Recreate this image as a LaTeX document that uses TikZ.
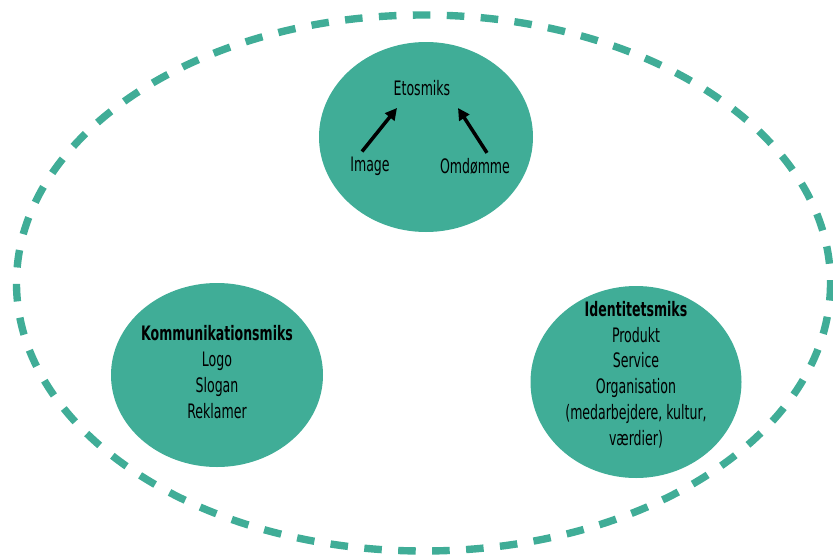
\documentclass[tikz,border=0pt]{standalone}
\usepackage{fontspec}
\setmainfont[FakeStretch=0.7]{DejaVu Sans Condensed}
\usetikzlibrary{positioning,arrows.meta,shapes.geometric}
\definecolor{mixgreen}{RGB}{64,173,151}

\begin{document}
\begin{tikzpicture}[
      x=0.03cm, y=-0.03cm,
      >={Triangle[length=10pt,width=10pt]}
    ]

    \tikzstyle{blob} = [ellipse, fill=mixgreen, inner sep=0pt]
    \tikzstyle{label} = [font=\fontsize{17}{22}\selectfont, align=center, text=black]
    \tikzstyle{arrow} = [line width=3pt, ->]

    \useasboundingbox (0,0) rectangle (833,558);

    % outer dashed ring
    \draw [mixgreen, line width=6.3pt, dash pattern=on 15pt off 14pt] (423.5,283) ellipse [x radius=407, y radius=268];

    % the three mixes
    \node [blob, minimum width=214*0.03cm, minimum height=190*0.03cm] (etos) at (426,137) {};
    \node [blob, minimum width=212*0.03cm, minimum height=184*0.03cm] (komm) at (217,375) {};
    \node [blob, minimum width=211*0.03cm, minimum height=192*0.03cm] (ident) at (636,382) {};

    \node [label] (etosTitle) at (422,88) {Etosmiks};
    \node [label] (image) at (370,166) {Image};
    \node [label] (omdomme) at (475,166) {Omdømme};

    \node [label] (kommText) at (217,372) {\textbf{Kommunikationsmiks}\\ Logo\\ Slogan\\ Reklamer};
    \node [label] (identText) at (636,374.5) {\textbf{Identitetsmiks}\\ Produkt\\ Service\\ Organisation\\ (medarbejdere, kultur,\\ værdier)};

    \draw [arrow] (image.north) ++(-8,-1) -- (397,108);
    \draw [arrow] (omdomme.north) ++(12,-1) -- (458,108);

\end{tikzpicture}
\end{document}
